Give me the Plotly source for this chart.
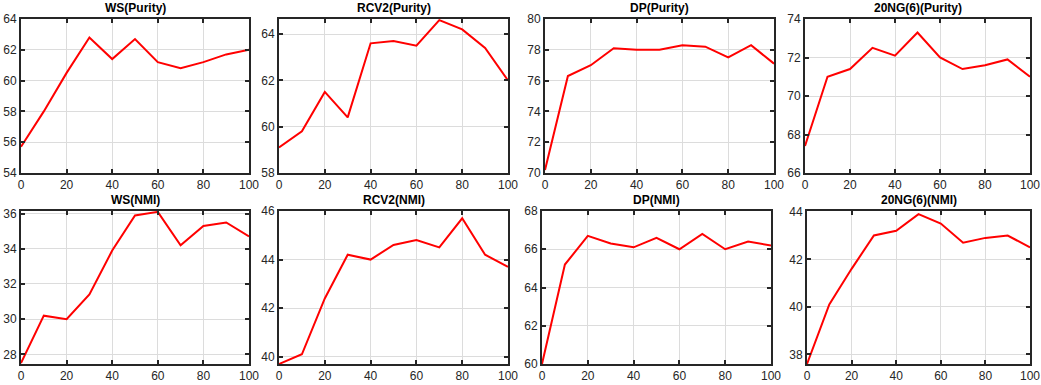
import plotly.graph_objects as go

x_vals = [0, 10, 20, 30, 40, 50, 60, 70, 80, 90, 100]

titles = ["WS(Purity)", "RCV2(Purity)", "DP(Purity)", "20NG(6)(Purity)",
          "WS(NMI)", "RCV2(NMI)", "DP(NMI)", "20NG(6)(NMI)"]

ws_purity = [55.7, 58.0, 60.5, 62.8, 61.4, 62.7, 61.2, 60.8, 61.2, 61.7, 62.0]
rcv2_purity = [59.1, 59.8, 61.5, 60.4, 63.6, 63.7, 63.5, 64.6, 64.2, 63.4, 62.0]
dp_purity = [70.2, 76.3, 77.0, 78.1, 78.0, 78.0, 78.3, 78.2, 77.5, 78.3, 77.1]
ng_purity = [67.4, 71.0, 71.4, 72.5, 72.1, 73.3, 72.0, 71.4, 71.6, 71.9, 71.0]
ws_nmi = [27.5, 30.2, 30.0, 31.4, 33.9, 35.9, 36.1, 34.2, 35.3, 35.5, 34.7]
rcv2_nmi = [39.7, 40.1, 42.4, 44.2, 44.0, 44.6, 44.8, 44.5, 45.7, 44.2, 43.7]
dp_nmi = [60.0, 65.2, 66.7, 66.3, 66.1, 66.6, 66.0, 66.8, 66.0, 66.4, 66.2]
ng_nmi = [37.6, 40.1, 41.6, 43.0, 43.2, 43.9, 43.5, 42.7, 42.9, 43.0, 42.5]

series = [ws_purity, rcv2_purity, dp_purity, ng_purity, ws_nmi, rcv2_nmi, dp_nmi, ng_nmi]
y_ranges = [[54, 64], [58, 64.65], [70, 80], [66, 74],
            [27.45, 36.15], [39.7, 46], [60, 68], [37.6, 44.03]]

W, H = 1041, 385
boxes = [(21, 249, 19, 173), (279, 508, 19, 173), (545, 774, 19, 173), (805, 1030, 19, 173),
         (21, 249, 211, 364), (279, 508, 211, 364), (542, 771, 211, 364), (807, 1030, 211, 364)]

fig = go.Figure()
font_family = "Liberation Sans, Arial, sans-serif"
axis_common = dict(showline=True, linewidth=2, linecolor="#262626", mirror="ticks",
                   ticks="inside", ticklen=4, tickwidth=1.5, tickcolor="#262626",
                   showgrid=True, gridcolor="#dcdcdc", gridwidth=1, zeroline=False,
                   automargin=False, ticklabeloverflow="allow",
                   tickfont=dict(family=font_family, size=12, color="#262626"))
annotations = []
for i, (ys, yr, box, title) in enumerate(zip(series, y_ranges, boxes, titles)):
    n = "" if i == 0 else str(i + 1)
    x0, x1, t, b = box
    fig.add_trace(go.Scatter(x=x_vals, y=ys, mode="lines",
                             line=dict(color="#ff0000", width=2),
                             xaxis="x" + n, yaxis="y" + n, showlegend=False, cliponaxis=True))
    fig.update_layout(**{
        "xaxis" + n: dict(domain=[x0 / W, x1 / W], anchor="y" + n, range=[0, 100],
                          tickvals=[0, 20, 40, 60, 80, 100], **axis_common),
        "yaxis" + n: dict(domain=[1 - b / H, 1 - t / H], anchor="x" + n, range=yr,
                          dtick=2, tick0=0, **axis_common),
    })
    annotations.append(dict(text="<b>" + title + "</b>", x=(x0 + x1) / 2 / W, y=1 - (t - 2) / H,
                            xref="paper", yref="paper", xanchor="center", yanchor="bottom",
                            showarrow=False,
                            font=dict(family=font_family, size=12, color="#000000")))

fig.update_layout(width=W, height=H, margin=dict(l=0, r=0, t=0, b=0),
                  paper_bgcolor="white", plot_bgcolor="white", annotations=annotations)
fig.write_html("out.html", config={"displayModeBar": False},
               post_script="document.body.style.margin='0';document.body.style.overflow='hidden';")
